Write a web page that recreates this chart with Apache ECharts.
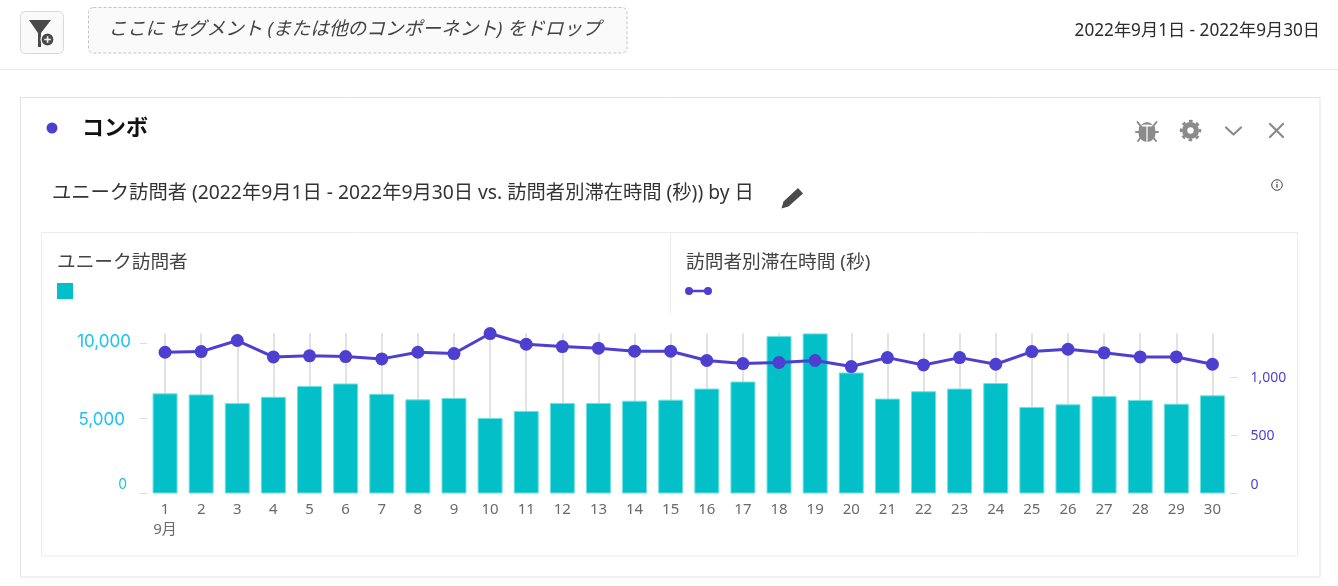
<!DOCTYPE html>
<html lang="ja">
<head>
<meta charset="utf-8">
<style>html,body{margin:0;padding:0;background:#fff}#c{width:1338px;height:586px}</style>
<script src="https://cdn.jsdelivr.net/npm/echarts@6/dist/echarts.min.js"></script>
</head>
<body>
<div id="c"></div>
<script>
const days = ['1','2','3','4','5','6','7','8','9','10','11','12','13','14','15','16','17','18','19','20','21','22','23','24','25','26','27','28','29','30'];
const monthLabel = '9月';
const barName = 'ユニーク訪問者';
const lineName = '訪問者別滞在時間 (秒)';
const uniqueVisitors = [6680,6610,6030,6450,7170,7340,6650,6280,6370,5040,5510,6040,6040,6190,6260,7000,7470,10500,10680,8070,6330,6820,7000,7370,5770,5950,6500,6240,5990,6550];
const timePerVisitor = [1214,1220,1315,1174,1183,1177,1157,1214,1203,1375,1283,1263,1249,1223,1223,1143,1117,1126,1143,1091,1168,1105,1168,1111,1220,1240,1209,1174,1174,1111];
const leftTicks = [0,5000,10000];
const rightTicks = [0,500,1000];
const leftMax = 10687;
const rightMax = 1377;

const FONT = '"Noto Sans","Noto Sans CJK JP",sans-serif';
const PURPLE = '#4f3fd0';
const GREY = '#8b8b8b';
const txt = (text,x,y,size,color,extra) => ({type:'text',silent:true,style:Object.assign({text,x,y,fill:color,font:`${size}px ${FONT}`,verticalAlign:'middle'},extra||{})});
const rect = (x,y,w,h,style,r) => ({type:'rect',silent:true,shape:{x,y,width:w,height:h,r:r||0},style});
let pathCount = 0;
const path = (d,style) => {
  const name = 'chromePath'+(pathCount++);
  echarts.graphic.registerShape(name, echarts.graphic.extendPath(d,{}));
  return {type:name,silent:true,style};
};
const stroke = (d,color,w) => path(d,{fill:null,stroke:color,lineWidth:w,lineCap:'round',lineJoin:'round'});
const fill = (d,color) => path(d,{fill:color});

const chrome = [
  rect(0,69,1338,1,{fill:'#e9e9e9'}),
  rect(20.5,11.5,43,42,{fill:'#fafafa',stroke:'#d8d8d8',lineWidth:1},5),
  fill('M29 20H51L41 33V47H38V33Z','#4a4a4a'),
  {type:'circle',silent:true,shape:{cx:47.5,cy:39.5,r:6.5},style:{fill:'#4a4a4a',stroke:'#fafafa',lineWidth:1.2}},
  fill('M46.8 36.2H48.4V38.7H50.9V40.3H48.4V42.8H46.8V40.3H44.3V38.7H46.8Z','#f2f2f2'),
  rect(88.5,7.5,538.5,45.5,{fill:'#fafafa',stroke:'#c4c4c4',lineWidth:1,lineDash:[3,2]},5),
  txt('ここに セグメント (または他のコンポーネント) をドロップ',354.5,30,18.7,'#444',{align:'center',font:`italic 18.7px ${FONT}`}),
  txt('2022年9月1日 - 2022年9月30日',1320,31.5,17.2,'#2c2c2c',{align:'right'}),
  rect(20.5,97.5,1299.5,479.5,{fill:'#fff',stroke:'#e2e2e2',lineWidth:1}),
  {type:'circle',silent:true,shape:{cx:52,cy:128,r:5.5},style:{fill:PURPLE}},
  txt('コンボ',82,129,22,'#111',{font:`bold 22px ${FONT}`}),
  // bug
  fill('M1140.5 125.5Q1147 118.5 1153.5 125.5Q1147 123.5 1140.5 125.5Z',GREY),
  fill('M1139 126.5H1146.4V142Q1139 140.5 1138.5 134Z M1147.6 126.5H1155L1155.5 134Q1155 140.5 1147.6 142Z',GREY),
  stroke('M1136 132H1140 M1154 132H1158 M1137.5 122L1141 126.5 M1156.5 122L1153 126.5 M1138 141L1141.5 136.5 M1156 141L1152.5 136.5',GREY,2),
  // gear
  {type:'ring',silent:true,shape:{cx:1190.5,cy:130.5,r:8.5,r0:3.2},style:{fill:GREY}},
  {type:'circle',silent:true,shape:{cx:1190.5,cy:130.5,r:9.5},style:{fill:null,stroke:GREY,lineWidth:2.4,lineDash:[3.7,3.76],lineDashOffset:1.85}},
  stroke('M1226 127.5L1233.5 134.5L1241 127.5',GREY,2.2),
  stroke('M1270 124L1283 137 M1283 124L1270 137',GREY,2.2),
  txt('ユニーク訪問者 (2022年9月1日 - 2022年9月30日 vs. 訪問者別滞在時間 (秒)) by 日',52,194,19.3,'#333'),
  fill('M781.5 208.5L783.5 201.5L798 188L803 193.5L788.5 206.5Z','#4a4a4a'),
  {type:'circle',silent:true,shape:{cx:1277,cy:185,r:5.3},style:{fill:null,stroke:'#444',lineWidth:1}},
  rect(1276.4,184,1.2,3.8,{fill:'#444'}),
  rect(1276.4,181.8,1.2,1.2,{fill:'#444'}),
  rect(41.5,232.5,1256,323.5,{fill:'#fff',stroke:'#ececec',lineWidth:1}),
  rect(670,233,1,80,{fill:'#ececec'}),
  txt(barName,57,263,18.7,'#444'),
  txt(lineName,686,263,18.7,'#444')
];
chrome.forEach(g => { g.z = -10; });

const leftLabel = v => v === 0 ? `{z|${v}}` : (v === 5000 ? `{m|5,000}` : `{t|10,000}`);
const rightLabel = v => v === 0 ? `{z|0}` : `{n|${v.toLocaleString('en-US')}}`;

const chart = echarts.init(document.getElementById('c'), null, {renderer:'canvas'});
chart.setOption({
  animation:false,
  backgroundColor:'#fff',
  textStyle:{fontFamily:FONT},
  graphic:{elements:chrome},
  legend:[
    {show:true,data:[barName],left:57,top:283,itemWidth:16,itemHeight:16,padding:0,selectedMode:false,icon:'rect',formatter:()=>'',itemStyle:{color:'#03bfc7',borderWidth:0}},
    {show:true,data:[lineName],left:685,top:286.5,itemWidth:27,itemHeight:9,padding:0,selectedMode:false,
     icon:'path://M0 4a4 4 0 1 1 8 0a4 4 0 1 1 -8 0Z M19 4a4 4 0 1 1 8 0a4 4 0 1 1 -8 0Z M3 2.8H24V5.2H3Z',
     formatter:()=>'',itemStyle:{color:PURPLE,borderWidth:0}}
  ],
  grid:{left:147,right:107.5,top:333.3,bottom:92.5,containLabel:false},
  xAxis:{
    type:'category',data:days,boundaryGap:true,
    axisLine:{show:false},
    axisTick:{show:false,alignWithLabel:true},
    splitLine:{show:true,alignWithLabel:true,interval:0,lineStyle:{color:'#e2e2e2',width:2}},
    axisLabel:{interval:0,margin:6,color:'#6a6a6a',fontSize:15,lineHeight:20,fontFamily:FONT,
      formatter:(v,i)=> i===0 ? v+'\n'+monthLabel : v}
  },
  yAxis:[
    {type:'value',min:0,max:leftMax,
     axisLine:{show:false},splitLine:{show:false},
     axisTick:{show:true,length:7,customValues:leftTicks,lineStyle:{color:'#dcdcdc',width:1}},
     axisLabel:{customValues:leftTicks,margin:16,formatter:leftLabel,align:'right',hideOverlap:false,
       rich:{
         t:{fontFamily:'Inter',fontSize:17,color:'#19c3f3',padding:[0,0,4,0]},
         m:{fontFamily:'Inter',fontSize:17,color:'#19c3f3',padding:[2,6,0,0]},
         z:{fontFamily:'Inter',fontSize:14,color:'#14c6d8',padding:[0,4,17,0]}
       }}
    },
    {type:'value',min:0,max:rightMax,position:'right',
     axisLine:{show:false},splitLine:{show:false},
     axisTick:{show:true,length:7,customValues:rightTicks,lineStyle:{color:'#dcdcdc',width:1}},
     axisLabel:{customValues:rightTicks,margin:20,formatter:rightLabel,align:'left',hideOverlap:false,
       rich:{
         n:{fontSize:14,color:PURPLE,padding:[2,0,0,0]},
         z:{fontSize:14,color:PURPLE,padding:[0,0,17,0]}
       }}
    }
  ],
  series:[
    {name:barName,type:'bar',yAxisIndex:0,data:uniqueVisitors,barWidth:25,
     itemStyle:{color:'#03bfc7',borderColor:'#6fe0e2',borderWidth:1},z:2},
    {name:lineName,type:'line',yAxisIndex:1,data:timePerVisitor,smooth:false,
     symbol:'circle',symbolSize:13,showSymbol:true,clip:false,
     lineStyle:{color:PURPLE,width:3},itemStyle:{color:PURPLE},z:3}
  ]
});
</script>
</body>
</html>
